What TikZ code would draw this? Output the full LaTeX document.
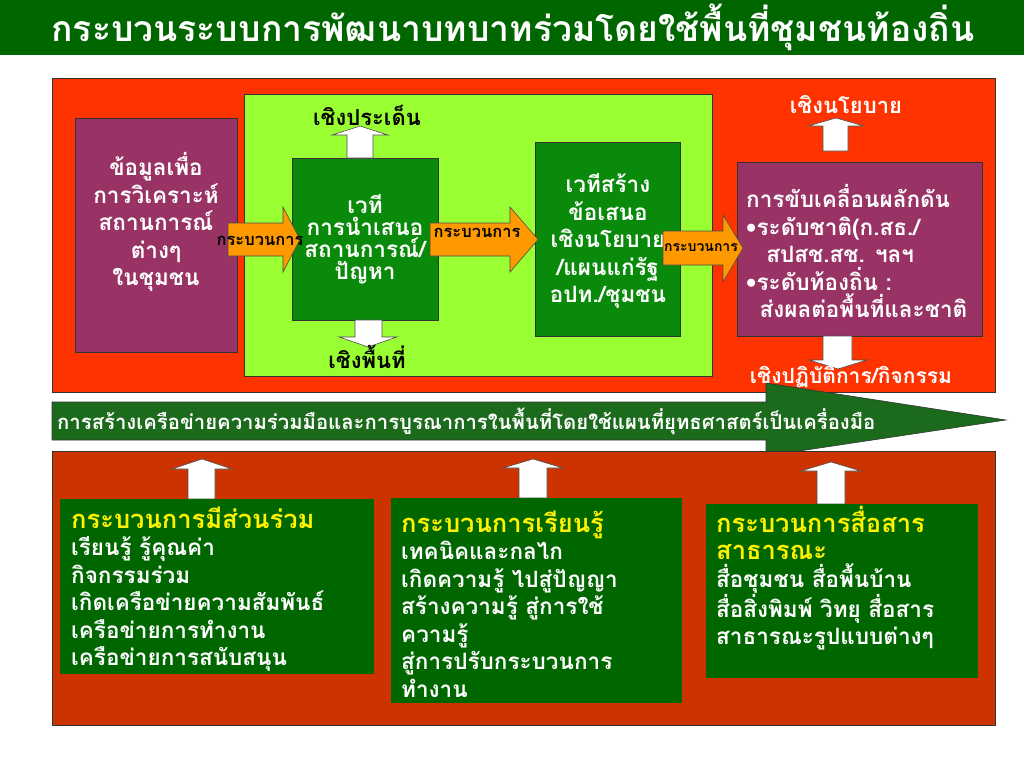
\documentclass[tikz,border=0pt]{standalone}
\usepackage{fontspec}
\setmainfont[Script=Thai]{Loma}
\definecolor{titlegreen}{HTML}{006600}
\definecolor{topred}{HTML}{FF3300}
\definecolor{lightgreen}{HTML}{99FF33}
\definecolor{plum}{HTML}{993366}
\definecolor{midgreen}{HTML}{0A8A0A}
\definecolor{orangearrow}{HTML}{FF9900}
\definecolor{botred}{HTML}{CC3300}
\definecolor{darkgreen}{HTML}{006600}
\definecolor{bannergreen}{HTML}{1C6B1C}
\tikzset{
  frame/.style={draw=black!80, line width=0.8pt},
  boxnode/.style={frame, inner sep=0pt, anchor=north west},
  bodytext/.style={text=white, font=\bfseries\fontsize{22.5}{27.5}\selectfont, inner sep=0pt},
  ctext/.style={bodytext, align=center},
  ltext/.style={bodytext, align=left, anchor=west},
  orangeblock/.style={fill=orangearrow, draw=black!70, line width=0.6pt},
  whiteblock/.style={fill=white, draw=black!70, line width=0.6pt},
  arrowlabel/.style={text=black, font=\bfseries\fontsize{16.5}{18}\selectfont, inner sep=0pt},
  dirlabel/.style={font=\bfseries\fontsize{22}{26}\selectfont, inner sep=0pt},
}
\newcommand{\hl}[1]{{\color{yellow}\fontsize{25.5}{27.5}\selectfont #1}}
\begin{document}
\begin{tikzpicture}[x=1pt,y=-1pt]
\useasboundingbox (0,0) rectangle (1024,768);
\fill[white] (0,0) rectangle (1024,768);
% title bar
\fill[titlegreen] (0,0) rectangle (1024,55);
\node[text=white, font=\bfseries\fontsize{35.5}{38}\selectfont, inner sep=0pt] (title) at (513,27)
  {กระบวนระบบการพัฒนาบทบาทร่วมโดยใช้พื้นที่ชุมชนท้องถิ่น};

% upper panel
\node[boxnode, fill=topred, minimum width=943pt, minimum height=314pt] (upper) at (52,78) {};
\node[boxnode, fill=lightgreen, minimum width=468pt, minimum height=282pt] (forum) at (244,94) {};
\node[boxnode, fill=plum, minimum width=162pt, minimum height=234pt] (data) at (75,118) {};
\node[ctext] (dataT) at (156,222) {ข้อมูลเพื่อ\\การวิเคราะห์\\สถานการณ์\\ต่างๆ\\ในชุมชน};
\node[boxnode, fill=midgreen, minimum width=146pt, minimum height=162pt] (stage) at (292,158) {};
\node[ctext, font=\bfseries\fontsize{22.5}{22}\selectfont] (stageT) at (365,239) {เวที\\การนำเสนอ\\สถานการณ์/\\ปัญหา};
\node[boxnode, fill=midgreen, minimum width=145pt, minimum height=194pt] (policy) at (535,142) {};
\node[ctext] (policyT) at (608,241) {เวทีสร้าง\\ข้อเสนอ\\เชิงนโยบาย\\/แผนแก่รัฐ\\อปท./ชุมชน};
\node[boxnode, fill=plum, minimum width=245pt, minimum height=174pt] (drive) at (737,162) {};
\node[ltext] (driveT) at (746,251) {การขับเคลื่อนผลักดัน\\•ระดับชาติ(ก.สธ./\\\hspace*{0.9em}สปสช.สช. ฯลฯ\\•ระดับท้องถิ่น :\\\hspace*{0.6em}ส่งผลต่อพื้นที่และชาติ};

% orange process arrows
\draw[orangeblock] (228,223) -- (283,223) -- (283,207) -- (300,239.5) -- (283,272) -- (283,256) -- (228,256) -- cycle;
\node[arrowlabel] (p1) at (260,241) {กระบวนการ};
\draw[orangeblock] (430,223) -- (510,223) -- (510,207) -- (538,239.5) -- (510,272) -- (510,256) -- (430,256) -- cycle;
\node[arrowlabel] (p2) at (477,233) {กระบวนการ};
\draw[orangeblock] (663,231) -- (723,231) -- (723,215) -- (743,248) -- (723,282) -- (723,265) -- (663,265) -- cycle;
\node[arrowlabel, font=\bfseries\fontsize{14}{16}\selectfont] (p3) at (701,248) {กระบวนการ};

% white direction arrows
\draw[whiteblock] (347,158) -- (347,135) -- (332,135) -- (360,126) -- (388,135) -- (373,135) -- (373,158) -- cycle;
\node[dirlabel, text=black] (issue) at (367,115) {เชิงประเด็น};
\draw[whiteblock] (355,320) -- (355,337) -- (339,337) -- (368,347) -- (397,337) -- (382,337) -- (382,320) -- cycle;
\node[dirlabel, text=black] (area) at (367,357) {เชิงพื้นที่};
\draw[whiteblock] (823,151) -- (823,126) -- (808,126) -- (836,118) -- (864,126) -- (848,126) -- (848,151) -- cycle;
\node[dirlabel, text=white] (pol) at (846,105) {เชิงนโยบาย};
\draw[whiteblock] (823,336) -- (823,360) -- (809,360) -- (838,369) -- (867,360) -- (852,360) -- (852,336) -- cycle;
\node[dirlabel, font=\bfseries\fontsize{21}{24}\selectfont, text=white] (act) at (851,377) {เชิงปฏิบัติการ/กิจกรรม};

% banner arrow
\draw[fill=bannergreen, draw=black!80, line width=0.6pt] (52,402) -- (766,402) -- (766,383) -- (1006,420) -- (766,456) -- (766,440) -- (52,440) -- cycle;
\node[text=white, font=\bfseries\fontsize{20.3}{22}\selectfont, anchor=west, inner sep=0pt] (banner) at (57,421)
  {การสร้างเครือข่ายความร่วมมือและการบูรณาการในพื้นที่โดยใช้แผนที่ยุทธศาสตร์เป็นเครื่องมือ};

% lower panel
\node[boxnode, fill=botred, minimum width=943pt, minimum height=274pt] (lower) at (52,451) {};
\draw[whiteblock] (188,499) -- (188,469) -- (172,469) -- (202,459) -- (232,469) -- (215,469) -- (215,499) -- cycle;
\draw[whiteblock] (519,498) -- (519,468) -- (503,468) -- (533,459) -- (563,468) -- (547,468) -- (547,498) -- cycle;
\draw[whiteblock] (817,504) -- (817,471) -- (801,471) -- (831,462) -- (861,471) -- (845,471) -- (845,504) -- cycle;
\node[boxnode, fill=darkgreen, draw=none, minimum width=314pt, minimum height=175pt] (part) at (60,499) {};
\node[ltext] (partT) at (71,589) {\hl{กระบวนการมีส่วนร่วม}\\เรียนรู้ รู้คุณค่า\\กิจกรรมร่วม\\เกิดเครือข่ายความสัมพันธ์\\เครือข่ายการทำงาน\\เครือข่ายการสนับสนุน};
\node[boxnode, fill=darkgreen, draw=none, minimum width=291pt, minimum height=205pt] (learn) at (391,498) {};
\node[ltext] (learnT) at (401,604) {\hl{กระบวนการเรียนรู้}\\เทคนิคและกลไก\\เกิดความรู้ ไปสู่ปัญญา\\สร้างความรู้ สู่การใช้\\ความรู้\\สู่การปรับกระบวนการ\\ทำงาน};
\node[boxnode, fill=darkgreen, draw=none, minimum width=272pt, minimum height=174pt] (comm) at (706,504) {};
\node[ltext] (commT) at (716,578) {\hl{กระบวนการสื่อสาร}\\\hl{สาธารณะ}\\สื่อชุมชน สื่อพื้นบ้าน\\สื่อสิ่งพิมพ์ วิทยุ สื่อสาร\\สาธารณะรูปแบบต่างๆ};
\end{tikzpicture}
\end{document}
